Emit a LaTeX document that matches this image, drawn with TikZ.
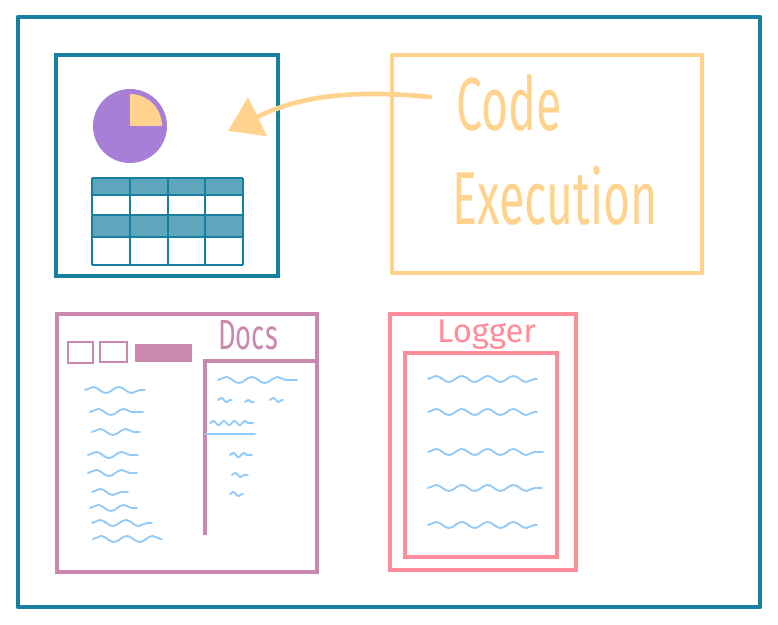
\documentclass[tikz,border=0pt]{standalone}
\usepackage{fontspec}
\usepackage{tikz}
\usetikzlibrary{arrows.meta,decorations.pathmorphing}
\newfontfamily\handfont{Fira Sans}

\definecolor{frameteal}{HTML}{17809E}
\definecolor{piepurple}{HTML}{A87FD6}
\definecolor{codeorange}{HTML}{FFD38D}
\definecolor{docsmauve}{HTML}{CB88AE}
\definecolor{loggerpink}{HTML}{FF8C9B}
\definecolor{wavyblue}{HTML}{92CBF7}

\begin{document}
\begin{tikzpicture}[x=0.03cm, y=-0.03cm,
    scribble/.style={draw=wavyblue, line width=1.6pt, line cap=round,
        decorate, decoration={snake, segment length=22pt, amplitude=2.6pt}},
    tinyscribble/.style={scribble, decoration={snake, segment length=9pt, amplitude=1.8pt}},
    hand/.style={inner sep=0pt, anchor=base west}]
    \useasboundingbox (0,0) rectangle (778,625);

    \draw[frameteal, line width=3.8pt, line join=round] (18,17) rectangle (760,607);

    \draw[frameteal, line width=3.4pt] (56,55) rectangle (278,276);
    \coordinate (pie) at (130,126);
    \fill[piepurple] (pie) circle (1.11cm);
    \fill[codeorange] (pie) -- ++(0.96cm,0) arc[start angle=0, end angle=90, radius=0.96cm] -- cycle;

    \fill[frameteal!70!white] (92,178) rectangle (243,195);
    \fill[frameteal!70!white] (92,215) rectangle (243,237);
    \foreach \x in {92,130,168,205,243}
        \draw[frameteal, line width=2.4pt] (\x,178) -- (\x,265);
    \foreach \y in {178,195,215,237,265}
        \draw[frameteal, line width=2.4pt] (92,\y) -- (243,\y);

    \draw[codeorange, line width=4pt, line join=round] (392,55) rectangle (702,273);
    \node[hand, text=codeorange, font=\handfont\fontsize{64}{64}\selectfont] (code) at (456,131) {\scalebox{0.62}[1]{Code}};
    \node[hand, text=codeorange, font=\handfont\fontsize{64}{64}\selectfont] (execution) at (452,225) {\scalebox{0.62}[1]{Execution}};
    \coordinate (arrowstart) at (430,97);
    \coordinate (arrowtip) at (228,131);
    \draw[codeorange, line width=4pt, line cap=round, -{Triangle[length=28pt, width=36pt]}]
        (arrowstart) .. controls (340,88) and (292,100) .. (arrowtip);

    \draw[docsmauve, line width=2.6pt] (57,314) rectangle (317,572);
    \node[hand, text=docsmauve, font=\handfont\fontsize{36}{36}\selectfont] (docs) at (218,349) {\scalebox{0.65}[1]{Docs}};
    \draw[docsmauve, line width=2.6pt] (317,361) -- (205,361) -- (205,535);
    \draw[docsmauve, line width=2.2pt] (68,342) rectangle (93,363);
    \draw[docsmauve, line width=2.2pt] (100,342) rectangle (127,362);
    \fill[docsmauve] (135,344) rectangle (192,362);
    \foreach \xa/\y/\xb in {85/390/145, 90/412/143, 92/432/140, 88/455/138, 88/473/137,
        92/492/128, 90/508/137, 92/523/152, 93/539/162}
        \draw[scribble] (\xa,\y) -- (\xb,\y);
    \draw[scribble] (218,380) -- (297,380);
    \draw[tinyscribble] (210,423) -- (253,423);
    \draw[wavyblue, line width=1.6pt, line cap=round] (205,434) -- (255,434);
    \foreach \xa/\y/\xb in {218/400/232, 245/402/254, 270/400/283, 230/455/252, 232/475/248, 230/494/243}
        \draw[tinyscribble] (\xa,\y) -- (\xb,\y);

    \draw[loggerpink, line width=2.6pt] (390,314) rectangle (576,570);
    \draw[loggerpink, line width=4pt] (405,353) rectangle (557,557);
    \node[hand, text=loggerpink, font=\handfont\fontsize{28}{28}\selectfont] (logger) at (437,343) {Logger};
    \foreach \y/\xb in {379/537, 412/537, 452/543, 488/542, 525/537}
        \draw[scribble] (428,\y) -- (\xb,\y);
\end{tikzpicture}
\end{document}
